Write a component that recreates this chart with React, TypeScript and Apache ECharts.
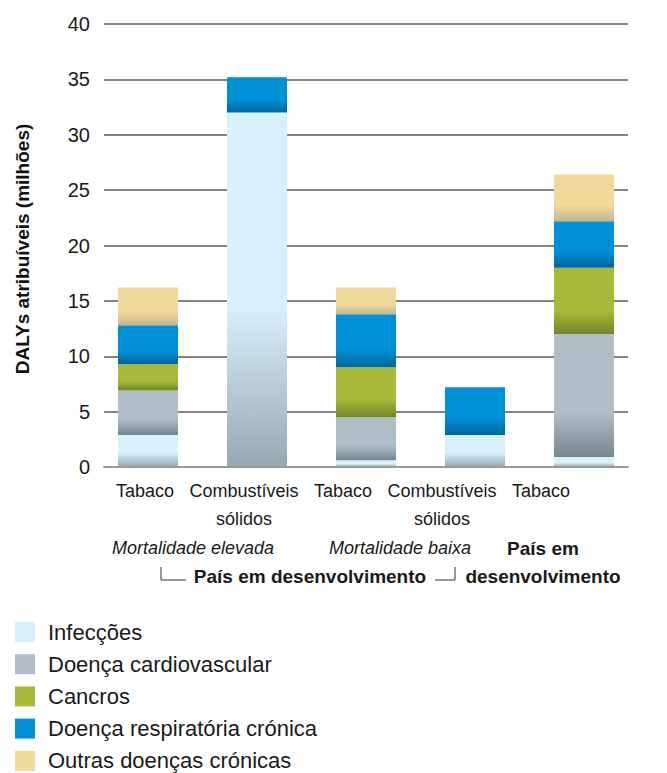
import React, { useEffect, useRef } from "react";
import * as echarts from "echarts";

const categories = ["Tabaco", "Combustíveis\nsólidos", "Tabaco", "Combustíveis\nsólidos", "Tabaco"];
const seriesNames = ["Infecções", "Doença cardiovascular", "Cancros", "Doença respiratória crónica", "Outras doenças crónicas"];
const infeccoes = [2.9, 32.0, 0.6, 2.9, 0.9];
const cardiovascular = [4.0, 0, 3.9, 0, 11.1];
const cancros = [2.4, 0, 4.5, 0, 6.0];
const respiratoria = [3.5, 3.2, 4.8, 4.3, 4.2];
const outras = [3.4, 0, 2.4, 0, 4.2];
const yTicks = [0, 5, 10, 15, 20, 25, 30, 35, 40];
const groupLabels = ["Mortalidade elevada", "Mortalidade baixa"];
const developingLabel = "País em desenvolvimento";
const developedLabel = "País em\ndesenvolvimento";
const yTitle = "DALYs atribuíveis (milhões)";

const topColors = ["#d9eff9", "#b0bec7", "#a9b93a", "#0090d6", "#f2da9c"];
const bottomColors = ["#98a8b2", "#77858e", "#74852a", "#00679c", "#c4b68e"];
const dataSets = [infeccoes, cardiovascular, cancros, respiratoria, outras];

const FONT = '"Liberation Sans", Arial, sans-serif';

export default function App() {
  const ref = useRef<HTMLDivElement>(null);
  useEffect(() => {
    document.body.style.margin = "0";
    const chart = echarts.init(ref.current!, null, { renderer: "svg" });
    const grad = (i: number) =>
      new echarts.graphic.LinearGradient(0, 0, 0, 1, i === 0
        ? [
            { offset: 0, color: topColors[i] },
            { offset: 0.55, color: topColors[i] },
            { offset: 1, color: bottomColors[i] },
          ]
        : [
            { offset: 0, color: topColors[i] },
            { offset: 0.64, color: topColors[i] },
            { offset: 1, color: bottomColors[i] },
          ]);
    const series = dataSets.map((d, i) => ({
      name: seriesNames[i],
      type: "bar",
      stack: "total",
      xAxisIndex: 0,
      yAxisIndex: 0,
      barWidth: 60,
      data: d.map((v) => (v > 0 ? v : null)),
      itemStyle: { color: grad(i) },
    }));
    chart.setOption({
      animation: false,
      textStyle: { fontFamily: FONT },
      grid: [
        { left: 93.5, width: 545, top: 24, bottom: 306 },
        { left: 104, right: 39, top: 24, bottom: 306 },
        { left: 95.5, width: 495, top: 24, bottom: 306 },
      ],
      xAxis: [
        { gridIndex: 0, type: "category", data: categories, show: false },
        {
          gridIndex: 1,
          type: "category",
          data: categories,
          z: 5,
          axisLine: { show: true, lineStyle: { color: "#9a9a9a", width: 2 } },
          axisTick: { show: false },
          axisLabel: { show: false },
        },
        {
          gridIndex: 2,
          type: "category",
          data: categories,
          axisLine: { show: false },
          axisTick: { show: false },
          axisLabel: {
            fontSize: 18,
            lineHeight: 28,
            color: "#1a1a1a",
            margin: 10,
            fontFamily: FONT,
            interval: 0,
          },
        },
      ],
      yAxis: [
        { gridIndex: 0, type: "value", min: 0, max: 40, interval: 5, show: false },
        {
          gridIndex: 1,
          type: "value",
          min: 0,
          max: 40,
          interval: 5,
          axisLine: { show: false },
          axisTick: { show: false },
          axisLabel: {
            fontSize: 20,
            color: "#1a1a1a",
            margin: 14,
            fontFamily: FONT,
            formatter: (v: number) => (yTicks.includes(v) ? String(v) : ""),
          },
          splitLine: { show: true, lineStyle: { color: "#5a5a5a", width: 1.5 } },
        },
        { gridIndex: 2, type: "value", min: 0, max: 40, show: false },
      ],
      legend: {
        orient: "vertical",
        left: 15,
        top: 621,
        height: 200,
        padding: 0,
        itemWidth: 20,
        itemHeight: 20,
        itemGap: 10.2,
        icon: "rect",
        selectedMode: false,
        data: seriesNames.map((n, i) => ({ name: n, itemStyle: { color: topColors[i] } })),
        textStyle: { fontSize: 22, color: "#1a1a1a", fontFamily: FONT, padding: [0, 0, 0, 8] },
      },
      graphic: [
        {
          type: "text",
          x: 22,
          y: 249,
          rotation: Math.PI / 2,
          style: {
            text: yTitle,
            align: "center",
            verticalAlign: "middle",
            font: `bold 19px ${FONT}`,
            fill: "#111",
          },
        },
        {
          type: "text",
          x: 193,
          y: 548,
          style: { text: groupLabels[0], align: "center", verticalAlign: "middle", font: `italic 18px ${FONT}`, fill: "#1a1a1a" },
        },
        {
          type: "text",
          x: 400,
          y: 548,
          style: { text: groupLabels[1], align: "center", verticalAlign: "middle", font: `italic 18px ${FONT}`, fill: "#1a1a1a" },
        },
        {
          type: "text",
          x: 310,
          y: 576,
          style: { text: developingLabel, align: "center", verticalAlign: "middle", font: `bold 19px ${FONT}`, fill: "#1a1a1a" },
        },
        {
          type: "text",
          x: 543,
          y: 562,
          style: { text: developedLabel, align: "center", verticalAlign: "middle", font: `bold 19px ${FONT}`, fill: "#1a1a1a", lineHeight: 28 },
        },
        {
          type: "polyline",
          shape: { points: [[161, 567], [161, 580], [186, 580]] },
          style: { stroke: "#333", lineWidth: 1, fill: null },
        },
        {
          type: "polyline",
          shape: { points: [[435, 580], [455, 580], [455, 567]] },
          style: { stroke: "#333", lineWidth: 1, fill: null },
        },
      ],
      series,
    });
    return () => chart.dispose();
  }, []);
  return <div ref={ref} style={{ width: 667, height: 773 }} />;
}
